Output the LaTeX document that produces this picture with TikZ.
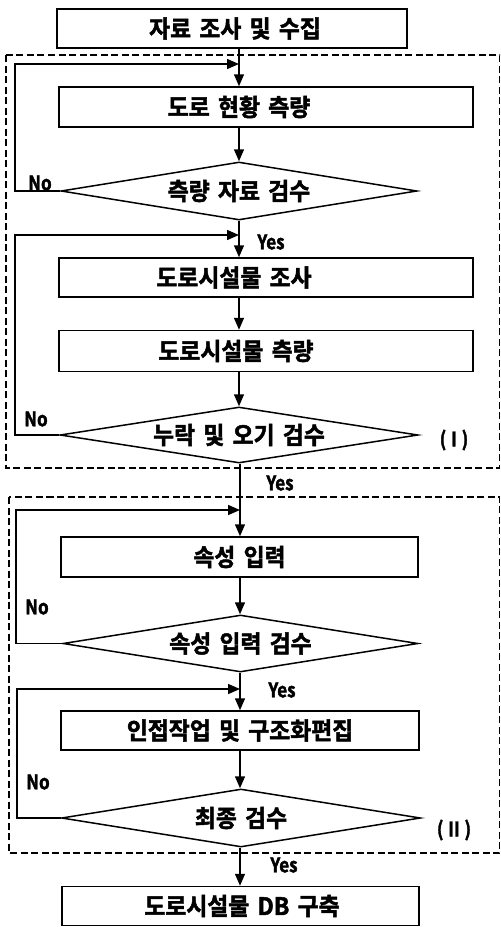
\documentclass[tikz,border=0pt]{standalone}
\usepackage{fontspec}
\setmainfont{Noto Sans CJK KR}
\newfontfamily\krb{Noto Sans CJK KR Bold}[WordSpace=1.6, FakeBold=2, FakeStretch=0.95]
\newfontfamily\latb{Noto Sans CJK KR Bold}[FakeStretch=0.85, FakeBold=2]
\usetikzlibrary{shapes.geometric,arrows.meta}
\begin{document}
\begin{tikzpicture}[x=1pt,y=-1pt,
  box/.style={draw, line width=1.5pt, fill=white, inner sep=0pt, rectangle},
  btext/.style={inner sep=0pt, font=\krb\fontsize{24}{26}\selectfont},
  dec/.style={draw, line width=1.5pt, diamond, shape aspect=6, inner sep=0pt, font=\krb\fontsize{24}{26}\selectfont},
  lbl/.style={inner sep=0pt, font=\latb\fontsize{20}{22}\selectfont},
  flow/.style={line width=1.5pt, -{Triangle[length=12pt,width=10pt]}},
  dashbox/.style={line width=1.2pt, dash pattern=on 7pt off 3.5pt}]
\useasboundingbox (0,0) rectangle (501,927);

% dashed groups
\draw[dashbox] (6,55) rectangle (499.5,468);
\draw[dashbox] (9,497) rectangle (499.5,853);

% columns
\coordinate (colI) at (239,0);
\coordinate (colII) at (240,0);

% nodes section I
\node[box, minimum width=350pt, minimum height=39pt] (n0) at (232,28.5) {};
\node[btext] (t0) at (235,28.5) {자료 조사 및 수집};
\node[box, minimum width=414pt, minimum height=40pt] (n1) at (266,107) {};
\node[btext] (t1) at (239,107) {도로 현황 측량};
\node[dec, minimum width=356pt, minimum height=58pt] (d1) at (239,191) {측량 자료 검수};
\node[box, minimum width=414pt, minimum height=39pt] (n2) at (266,277.5) {};
\node[btext] (t2) at (234,277.5) {도로시설물 조사};
\node[box, minimum width=414pt, minimum height=41pt] (n3) at (266,351) {};
\node[btext] (t3) at (236,351) {도로시설물 측량};
\node[dec, minimum width=358pt, minimum height=56pt] (d2) at (239,435) {누락 및 오기 검수};

% nodes section II
\node[box, minimum width=357pt, minimum height=40pt] (n4) at (239.5,557) {};
\node[btext] (t4) at (239.5,557) {속성 입력};
\node[dec, minimum width=355pt, minimum height=57pt] (d3) at (240.5,643.5) {속성 입력 검수};
\node[box, minimum width=358pt, minimum height=39pt] (n5) at (240,730.5) {};
\node[btext] (t5) at (240,730.5) {인접작업 및 구조화편집};
\node[dec, minimum width=359pt, minimum height=58pt] (d4) at (241,818) {최종 검수};
\node[box, minimum width=357pt, minimum height=39pt] (n6) at (240.5,906) {};
\node[btext] (t6) at (242,906) {도로시설물 DB 구축};

% loop coordinates
\coordinate (L1) at (15,64);
\coordinate (L2) at (15,235);
\coordinate (L3) at (16,510);
\coordinate (L4) at (17,689);

% main flow
\draw[flow] (n0.south -| colI) -- (n1.north -| colI);
\draw[flow] (n1.south -| colI) -- (d1.north -| colI);
\draw[flow] (d1.south -| colI) -- (n2.north -| colI);
\draw[flow] (n2.south -| colI) -- (n3.north -| colI);
\draw[flow] (n3.south -| colI) -- (d2.north -| colI);
\draw[flow] (d2.south -| colII) -- (n4.north -| colII);
\draw[flow] (n4.south -| colII) -- (d3.north -| colII);
\draw[flow] (d3.south -| colII) -- (n5.north -| colII);
\draw[flow] (n5.south -| colII) -- (d4.north -| colII);
\draw[flow] (d4.south -| colII) -- (n6.north -| colII);

% feedback loops
\draw[flow] (d1.west) -- (d1.west -| L1) -- (L1) -- (L1 -| colI);
\draw[flow] (d2.west) -- (d2.west -| L2) -- (L2) -- (L2 -| colI);
\draw[flow] (d3.west) -- (d3.west -| L3) -- (L3) -- (L3 -| colII);
\draw[flow] (d4.west) -- (d4.west -| L4) -- (L4) -- (L4 -| colII);

% labels
\node[lbl] (no1) at (40,183) {No};
\node[lbl] (no2) at (36,419) {No};
\node[lbl] (no3) at (37,607) {No};
\node[lbl] (no4) at (38,782) {No};
\node[lbl] (y1) at (271,242) {Yes};
\node[lbl] (y2) at (280,483) {Yes};
\node[lbl] (y3) at (282,690) {Yes};
\node[lbl] (y4) at (284,865) {Yes};
\node[lbl] (g1) at (454,440) {(\hspace{5pt}I\hspace{5pt})};
\node[lbl] (g2) at (454,830) {(\hspace{5pt}II\hspace{5pt})};
\end{tikzpicture}
\end{document}
